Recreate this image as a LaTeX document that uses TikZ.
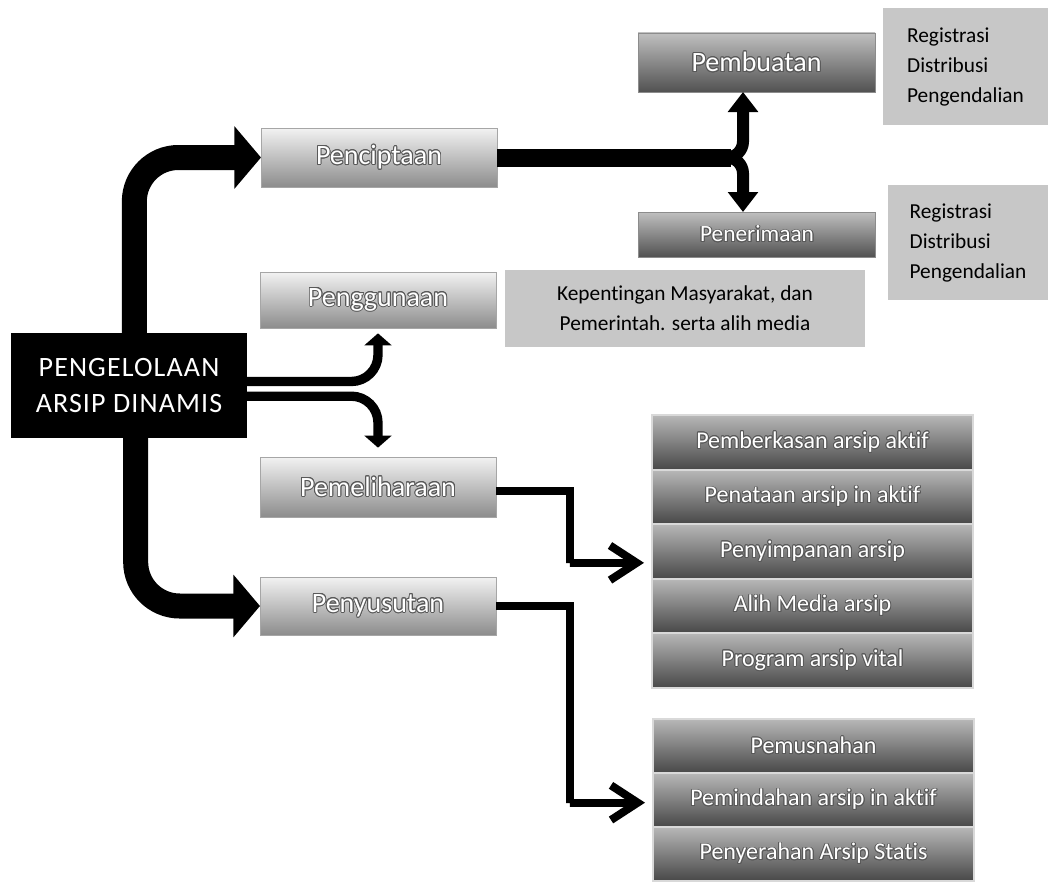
\documentclass[tikz,border=0pt]{standalone}
\usepackage{fontspec}
\setmainfont{Carlito}[Ligatures=NoCommon]
\usepackage[copies]{contour}
\contourlength{0.7pt}
\usetikzlibrary{arrows.meta,calc}
\newcommand{\outl}[1]{\contour{black!65}{#1}}
\begin{document}
\begin{tikzpicture}[x=0.75pt,y=-0.75pt,
  sz/.style 2 args={minimum width=#1*0.75pt,minimum height=#2*0.75pt},
  every node/.style={inner sep=0pt,outer sep=0pt},
  mainbox/.style={fill=black,text=white,align=center,font=\fontsize{21}{27}\selectfont\addfontfeatures{LetterSpace=4}},
  procbox/.style={draw=black!35,line width=0.6pt,top color=black!5,bottom color=black!45,text=white,font=\fontsize{21}{25}\selectfont},
  darkbox/.style={draw=black!45,line width=0.5pt,top color=black!25,bottom color=black!68,text=white},
  rowbox/.style={draw=black!15,line width=0.8pt,top color=black!28,bottom color=black!72,text=white,font=\fontsize{18}{22}\selectfont},
  infobox/.style={fill=black!22,text=black,font=\fontsize{16}{22.5}\selectfont},
  bigarrow/.style={line width=18.75pt,-{Triangle[length=20pt,width=46pt]}},
  midarrow/.style={line width=9pt,-{Triangle[length=15pt,width=22pt]}},
  thinarrow/.style={line width=7pt,-{Triangle[length=9pt,width=20pt]}},
  elbow/.style={line width=6pt,-{Straight Barb[length=20pt,width=26pt]}}
]
\fill[white] (0,0) rectangle (1048,881);
\useasboundingbox (0,0) rectangle (1048,881);

% main box
\node[mainbox,sz={236}{105}] (main) at (129,385.5) {PENGELOLAAN\\ARSIP DINAMIS};

% process boxes
\node[procbox,sz={236}{59}] (penc) at (379,157.5) {\outl{Penciptaan}};
\node[procbox,sz={236}{56}] (pengg) at (378,300) {\outl{Penggunaan}};
\node[procbox,sz={236}{60}] (pemel) at (378,487) {\outl{Pemeliharaan}};
\node[procbox,sz={236}{58}] (penyu) at (378,606) {\outl{Penyusutan}};

% sub boxes
\node[darkbox,sz={237}{59},font=\fontsize{21}{25}\selectfont] (pemb) at (756.5,62.5) {\outl{Pembuatan}};
\node[darkbox,sz={237}{45},font=\fontsize{17.5}{21}\selectfont] (pener) at (757,234.5) {\outl{Penerimaan}};

% info boxes
\node[infobox,sz={165}{117},align=left] (reg1) at (965.5,66.5) {Registrasi\\Distribusi\\Pengendalian};
\node[infobox,sz={160}{115},align=left] (reg2) at (968,242.5) {Registrasi\\Distribusi\\Pengendalian};
\node[infobox,sz={360}{77},align=center] (kep) at (685,308.5) {Kepentingan Masyarakat, dan\\Pemerintah. serta alih media};

% list 1
\node[rowbox,sz={321}{55}] (r1) at (812.5,442.5) {\outl{Pemberkasan arsip aktif}};
\node[rowbox,sz={321}{54}] (r2) at (812.5,497) {\outl{Penataan arsip in aktif}};
\node[rowbox,sz={321}{55}] (r3) at (812.5,551.5) {\outl{Penyimpanan arsip}};
\node[rowbox,sz={321}{54}] (r4) at (812.5,606) {\outl{Alih Media arsip}};
\node[rowbox,sz={321}{55}] (r5) at (812.5,660.5) {\outl{Program arsip vital}};

% list 2
\node[rowbox,sz={321}{54}] (s1) at (813.5,746) {\outl{Pemusnahan}};
\node[rowbox,sz={321}{54}] (s2) at (813.5,800) {\outl{Pemindahan arsip in aktif}};
\node[rowbox,sz={321}{54}] (s3) at (813.5,854) {\outl{Penyerahan Arsip Statis}};

% coordinates
\coordinate (split) at (743,157.5);
\coordinate (ea) at (570,563);
\coordinate (eb) at (570,803);

% big arrows
\draw[bigarrow,rounded corners=33pt] ([xshift=4pt]main.north) |- (penc.west);
\draw[bigarrow,rounded corners=33pt] ([xshift=5pt]main.south) |- (penyu.west);

% penciptaan split
\draw[line width=13.5pt] (penc.east) -- ($(split)+(-12,0)$);
\draw[midarrow,rounded corners=12pt] ($(split)+(-24,0)$) -| (split |- pemb.south);
\draw[midarrow,rounded corners=12pt] ($(split)+(-24,0)$) -| (split |- pener.north);

% thin arrows
\draw[thinarrow,rounded corners=20pt,shorten >=4pt] ([yshift=3pt]main.east) -| (pengg.south);
\draw[thinarrow,rounded corners=20pt,shorten >=7pt] ([yshift=-8pt]main.east) -| (pemel.north);

% elbow arrows
\draw[elbow,shorten >=6pt] ([yshift=-3pt]pemel.east) -| (ea) |- ([yshift=-8.5pt]r3.west);
\draw[elbow,shorten >=6pt] (penyu.east) -| (eb) |- ([yshift=-2pt]s2.west);
\end{tikzpicture}
\end{document}
